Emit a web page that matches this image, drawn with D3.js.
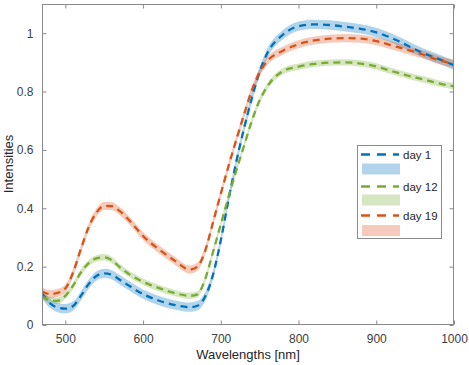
<!DOCTYPE html>
<html><head><meta charset="utf-8">
<script src="https://cdn.jsdelivr.net/npm/d3@7"></script>
<style>body{margin:0;background:#fff}svg{display:block;font-family:"Liberation Sans",Arial,sans-serif}</style>
</head><body><svg id="c" width="469" height="365"></svg>
<script>
const wavelengths = [470,480,490,500,510,520,530,540,550,560,570,580,600,620,640,660,670,680,690,700,710,720,730,740,750,760,780,800,820,840,860,880,900,920,940,960,980,1000];
const day1  = [0.108,0.075,0.060,0.056,0.065,0.100,0.140,0.168,0.177,0.172,0.155,0.138,0.106,0.084,0.069,0.061,0.066,0.098,0.172,0.290,0.430,0.560,0.675,0.778,0.868,0.932,0.995,1.024,1.030,1.028,1.022,1.015,1.003,0.983,0.958,0.932,0.912,0.890];
const day12 = [0.098,0.085,0.083,0.100,0.135,0.180,0.212,0.228,0.232,0.222,0.198,0.178,0.148,0.127,0.110,0.100,0.105,0.158,0.250,0.345,0.440,0.530,0.615,0.700,0.770,0.818,0.870,0.885,0.895,0.899,0.900,0.896,0.886,0.870,0.855,0.842,0.828,0.818];
const day19 = [0.115,0.106,0.110,0.125,0.180,0.260,0.335,0.385,0.408,0.407,0.390,0.365,0.305,0.260,0.222,0.190,0.200,0.255,0.352,0.450,0.545,0.635,0.722,0.805,0.866,0.905,0.940,0.962,0.975,0.981,0.983,0.981,0.973,0.958,0.943,0.927,0.908,0.895];
const spread = [0.016,0.011,0.014];
const seriesNames = ["day 1","day 12","day 19"];
const colors = ["#0072BD","#77AC30","#D95319"];
const xTicks = [500,600,700,800,900,1000];
const yTicks = [0,0.2,0.4,0.6,0.8,1];

const svg = d3.select("#c");
const L=42,R=454,T=4,B=325;
const x = d3.scaleLinear().domain([470,1000]).range([L,R]);
const y = d3.scaleLinear().domain([0,1.1]).range([B,T]);
const series=[day1,day12,day19];

svg.append("clipPath").attr("id","cp").append("rect").attr("x",L).attr("y",T).attr("width",R-L).attr("height",B-T);
const g = svg.append("g").attr("clip-path","url(#cp)");

const area = d3.area().curve(d3.curveMonotoneX).x((d,i)=>x(wavelengths[i]));
const line = d3.line().curve(d3.curveMonotoneX).x((d,i)=>x(wavelengths[i])).y(d=>y(d));

series.forEach((s,k)=>{
  g.append("path").datum(s)
   .attr("d", area.y0(d=>y(d-spread[k])).y1(d=>y(d+spread[k])))
   .attr("fill",colors[k]).attr("fill-opacity",0.3).attr("stroke","none");
});
series.forEach((s,k)=>{
  g.append("path").datum(s).attr("d",line)
   .attr("fill","none").attr("stroke",colors[k]).attr("stroke-width",2.3)
   .attr("stroke-dasharray","7,5");
});

const axc="#8a8a8a", txc="#404040";
svg.append("rect").attr("x",L+0.5).attr("y",T+0.5).attr("width",R-L-1).attr("height",B-T-1)
  .attr("fill","none").attr("stroke",axc).attr("stroke-width",1);

const axBottom = d3.axisBottom(x).tickValues(xTicks).tickSize(-4).tickPadding(10).tickFormat(d3.format("d"));
const gb = svg.append("g").attr("transform",`translate(0,${B-0.5})`).call(axBottom);
const axTop = d3.axisTop(x).tickValues(xTicks).tickSize(-4).tickFormat("");
const gt = svg.append("g").attr("transform",`translate(0,${T+0.5})`).call(axTop);
const axLeft = d3.axisLeft(y).tickValues(yTicks).tickSize(-4).tickPadding(9).tickFormat(d=>String(+d.toFixed(1)));
const gl = svg.append("g").attr("transform",`translate(${L+0.5},0)`).call(axLeft);
const axRight = d3.axisRight(y).tickValues(yTicks).tickSize(-4).tickFormat("");
const gr = svg.append("g").attr("transform",`translate(${R-0.5},0)`).call(axRight);
[gb,gt,gl,gr].forEach(a=>{
  a.select(".domain").remove();
  a.selectAll(".tick line").attr("stroke",axc);
  a.selectAll("text").attr("fill",txc).attr("font-size",12).attr("font-family","Liberation Sans, Arial, sans-serif");
});

svg.append("text").attr("x",(L+R)/2).attr("y",359).attr("text-anchor","middle")
  .attr("font-size",13).attr("fill","#262626").text("Wavelengths [nm]");
svg.append("text").attr("transform","translate(13,164) rotate(-90)").attr("text-anchor","middle")
  .attr("font-size",13).attr("fill","#262626").text("Intensities");

const lg = svg.append("g");
lg.append("rect").attr("x",357.5).attr("y",145.5).attr("width",84).attr("height",93)
  .attr("fill","#fff").attr("stroke",axc);
const rowY=[154.5,186.5,215.5];
const patchY=[169,200,230.5];
seriesNames.forEach((n,k)=>{
  lg.append("line").attr("x1",361).attr("x2",399).attr("y1",rowY[k]).attr("y2",rowY[k])
    .attr("stroke",colors[k]).attr("stroke-width",2.3).attr("stroke-dasharray","9,7");
  lg.append("text").attr("x",403).attr("y",rowY[k]+4).attr("font-size",11.5).attr("fill","#262626").text(n);
  lg.append("rect").attr("x",362).attr("y",patchY[k]-5.5).attr("width",38).attr("height",11)
    .attr("fill",colors[k]).attr("fill-opacity",0.3);
});
</script></body></html>
